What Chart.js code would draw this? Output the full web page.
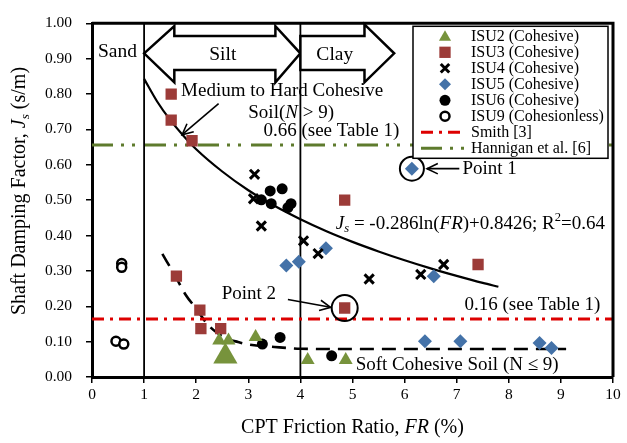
<!DOCTYPE html>
<html><head><meta charset="utf-8">
<script src="https://cdn.jsdelivr.net/npm/chart.js@4.4.1/dist/chart.umd.min.js"></script>
<style>html,body{margin:0;padding:0;background:#fff}#wrap{width:627px;height:443px;position:relative}</style>
</head><body><div id="wrap"><canvas id="c" width="627" height="443"></canvas></div>
<script>
// ---------- data ----------
const xTicks = [0, 1, 2, 3, 4, 5, 6, 7, 8, 9, 10];
const yTicks = [0, 0.1, 0.2, 0.3, 0.4, 0.5, 0.6, 0.7, 0.8, 0.9, 1.0];

const isu2FR = [2.44, 2.62, 2.56, 3.14, 4.14, 4.87];
const isu2Js = [0.103, 0.103, 0.058, 0.113, 0.048, 0.048];

const isu3FR = [1.52, 1.52, 1.92, 1.62, 2.07, 2.09, 2.47, 4.85, 4.85, 7.41];
const isu3Js = [0.800, 0.726, 0.668, 0.285, 0.189, 0.137, 0.137, 0.195, 0.500, 0.318];

const isu4FR = [3.12, 3.10, 3.25, 4.06, 4.34, 5.32, 6.31, 6.75];
const isu4Js = [0.573, 0.504, 0.427, 0.385, 0.349, 0.277, 0.290, 0.318];

const isu5FR = [6.14, 3.73, 3.97, 4.49, 6.56, 6.39, 7.07, 8.59, 8.82];
const isu5Js = [0.589, 0.315, 0.326, 0.364, 0.285, 0.101, 0.101, 0.096, 0.082];

const isu6FR = [3.42, 3.65, 3.25, 3.44, 3.76, 3.82, 3.27, 3.61, 4.60];
const isu6Js = [0.526, 0.532, 0.501, 0.490, 0.479, 0.490, 0.093, 0.112, 0.060];

const isu9FR = [0.57, 0.57, 0.46, 0.61];
const isu9Js = [0.321, 0.310, 0.101, 0.093];

const smithJs = 0.164;      // "0.16 (see Table 1)"
const hanniganJs = 0.656;   // "0.66 (see Table 1)"
const zoneFR = [1, 4];      // Sand | Silt | Clay boundaries

// trend: Js = -0.286 ln(FR) + 0.8426
const trendFR = [1.0, 1.25, 1.5, 1.75, 2.0, 2.5, 3.0, 3.5, 4.0, 4.5, 5.0, 5.5, 6.0, 6.5, 7.0, 7.5, 7.8];
const trendJs = [0.843, 0.779, 0.727, 0.683, 0.644, 0.581, 0.528, 0.484, 0.446, 0.412, 0.382, 0.355, 0.330, 0.307, 0.286, 0.266, 0.255];

// soft cohesive soil dashed curve
const softFR = [1.35, 1.6, 1.8, 2.0, 2.2, 2.4, 2.6, 2.8, 3.0, 3.5, 4.0, 5.0, 6.0, 7.0, 8.0, 9.1];
const softJs = [0.348, 0.285, 0.232, 0.193, 0.152, 0.125, 0.108, 0.099, 0.092, 0.085, 0.080, 0.079, 0.079, 0.079, 0.079, 0.079];

const seriesNames = ['ISU2 (Cohesive)', 'ISU3 (Cohesive)', 'ISU4 (Cohesive)', 'ISU5 (Cohesive)',
  'ISU6 (Cohesive)', 'ISU9 (Cohesionless)', 'Smith [3]', 'Hannigan et al. [6]'];

// ---------- styling ----------
const F = "'Liberation Serif','Times New Roman',serif";
const C2 = '#77933C', C3 = '#9C3B38', C5 = '#4472A8', CS = '#DD0000', CH = '#5E7B2D';
const pts = (xs, ys) => xs.map((x, i) => ({ x, y: ys[i] }));
const yMin = yTicks[0], yMax = yTicks[yTicks.length - 1];
const xMin = xTicks[0], xMax = xTicks[xTicks.length - 1];

function fnt(size, italic) { return (italic ? 'italic ' : '') + size + 'px ' + F; }
function drawRich(ctx, parts, x, y, size, align) {
  let w = 0;
  const items = parts.map(p => {
    const t = Array.isArray(p) ? p[0] : p;
    const st = Array.isArray(p) ? p[1] : '';
    const italic = st.indexOf('i') === 0;
    const sub = st.indexOf('sub') >= 0, sup = st.indexOf('sup') >= 0;
    const fs = (sub || sup) ? size * 0.66 : size;
    ctx.font = fnt(fs, italic);
    const tw = ctx.measureText(t).width;
    w += tw;
    return { t, italic, fs, tw, dy: sub ? size * 0.28 : (sup ? -size * 0.3 : 0) };
  });
  let cx = align === 'center' ? x - w / 2 : x;
  ctx.textAlign = 'left'; ctx.textBaseline = 'middle'; ctx.fillStyle = '#000';
  items.forEach(it => { ctx.font = fnt(it.fs, it.italic); ctx.fillText(it.t, cx, y + it.dy); cx += it.tw; });
}
function arrowLine(ctx, x1, y1, x2, y2, head) {
  ctx.beginPath(); ctx.moveTo(x1, y1); ctx.lineTo(x2, y2); ctx.stroke();
  const a = Math.atan2(y2 - y1, x2 - x1), s = 0.45;
  ctx.beginPath();
  ctx.moveTo(x2 - head * Math.cos(a - s), y2 - head * Math.sin(a - s));
  ctx.lineTo(x2, y2);
  ctx.lineTo(x2 - head * Math.cos(a + s), y2 - head * Math.sin(a + s));
  ctx.stroke();
}
function marker(ctx, style, x, y, r, fill, stroke, lw) {
  ctx.beginPath();
  if (style === 'triangle') {
    ctx.moveTo(x, y - r); ctx.lineTo(x + r * 0.866, y + r / 2); ctx.lineTo(x - r * 0.866, y + r / 2); ctx.closePath();
  } else if (style === 'rect') {
    const s = r * Math.SQRT1_2; ctx.rect(x - s, y - s, 2 * s, 2 * s);
  } else if (style === 'rectRot') {
    ctx.moveTo(x - r, y); ctx.lineTo(x, y - r); ctx.lineTo(x + r, y); ctx.lineTo(x, y + r); ctx.closePath();
  } else if (style === 'circle') {
    ctx.arc(x, y, r, 0, Math.PI * 2);
  } else if (style === 'crossRot') {
    const s = r * Math.SQRT1_2;
    ctx.moveTo(x - s, y - s); ctx.lineTo(x + s, y + s); ctx.moveTo(x + s, y - s); ctx.lineTo(x - s, y + s);
  }
  if (fill) { ctx.fillStyle = fill; ctx.fill(); }
  if (stroke) { ctx.strokeStyle = stroke; ctx.lineWidth = lw; ctx.stroke(); }
}

const annot = {
  id: 'annot',
  afterDatasetsDraw(chart) {
    const ctx = chart.ctx, xs = chart.scales.x, ys = chart.scales.y, a = chart.chartArea;
    const X = v => xs.getPixelForValue(v), Y = v => ys.getPixelForValue(v);
    ctx.save();
    // Silt / Clay block arrows
    ctx.lineWidth = 2.5; ctx.strokeStyle = '#000'; ctx.fillStyle = '#fff'; ctx.lineJoin = 'miter';
    const silt = [[1.0, 0.915], [1.58, 0.992], [1.58, 0.964], [3.52, 0.964], [3.52, 0.992], [4.0, 0.915],
      [3.52, 0.833], [3.52, 0.868], [1.58, 0.868], [1.58, 0.833]];
    const clay = [[4.0, 0.964], [5.23, 0.964], [5.23, 0.997], [5.8, 0.915], [5.23, 0.833], [5.23, 0.868], [4.0, 0.868]];
    [silt, clay].forEach(poly => {
      ctx.beginPath();
      poly.forEach((p, i) => i ? ctx.lineTo(X(p[0]), Y(p[1])) : ctx.moveTo(X(p[0]), Y(p[1])));
      ctx.closePath(); ctx.fill(); ctx.stroke();
    });
    drawRich(ctx, ['Silt'], X(2.51), Y(0.91), 19.5, 'center');
    drawRich(ctx, ['Clay'], X(4.66), Y(0.91), 19.5, 'center');
    drawRich(ctx, ['Sand'], X(0.49), Y(0.918), 19.5, 'center');

    // text annotations
    drawRich(ctx, ['Medium to Hard Cohesive'], X(1.71), Y(0.808), 19);
    drawRich(ctx, ['Soil(', ['N', 'i'], ' > 9)'], X(3.00), Y(0.745), 19);
    drawRich(ctx, ['0.66 (see Table 1)'], X(3.29), Y(0.696), 19);
    drawRich(ctx, [['J', 'i'], ['s', 'isub'], ' = -0.286ln(', ['FR', 'i'], ')+0.8426; R', ['2', 'sup'], '=0.64'], X(4.68), Y(0.433), 19);
    drawRich(ctx, ['Point 1'], X(7.11), Y(0.589), 19);
    drawRich(ctx, ['Point 2'], X(2.49), Y(0.236), 19);
    drawRich(ctx, ['0.16 (see Table 1)'], X(7.15), Y(0.203), 19);
    drawRich(ctx, ['Soft Cohesive Soil (N \u2264 9)'], X(5.06), Y(0.033), 19);

    // arrows
    ctx.lineWidth = 1.6; ctx.strokeStyle = '#000';
    arrowLine(ctx, X(2.43), Y(0.773), X(1.73), Y(0.685), 12);
    arrowLine(ctx, X(7.05), Y(isu5Js[0]), X(6.43), Y(isu5Js[0]), 12);
    arrowLine(ctx, X(3.76), Y(0.219), X(4.58), Y(0.197), 12);
    // circles around Point 1 and Point 2
    ctx.lineWidth = 2;
    ctx.beginPath(); ctx.arc(X(isu5FR[0]), Y(isu5Js[0]), 12, 0, Math.PI * 2); ctx.stroke();
    ctx.beginPath(); ctx.arc(X(isu3FR[7]), Y(isu3Js[7]), 13, 0, Math.PI * 2); ctx.stroke();

    // frame (top and right)
    ctx.lineWidth = 3; ctx.strokeStyle = '#000';
    ctx.beginPath(); ctx.moveTo(a.left, a.top); ctx.lineTo(a.right, a.top); ctx.lineTo(a.right, a.bottom); ctx.stroke();

    // legend
    const lx = a.right - 200, ly = a.top + 3, lw = 195, lh = 132;
    ctx.fillStyle = '#fff'; ctx.fillRect(lx, ly, lw, lh);
    ctx.lineWidth = 1.5; ctx.strokeStyle = '#000'; ctx.strokeRect(lx, ly, lw, lh);
    const mx = lx + 32, tx = lx + 58;
    const rows = seriesNames.map((n, i) => ly + 10 + i * 16);
    marker(ctx, 'triangle', mx, rows[0] + 1, 7, C2);
    marker(ctx, 'rect', mx, rows[1], 8, C3);
    marker(ctx, 'crossRot', mx, rows[2], 6, null, '#000', 3);
    marker(ctx, 'rectRot', mx, rows[3], 6, C5);
    marker(ctx, 'circle', mx, rows[4], 5.5, '#000');
    marker(ctx, 'circle', mx, rows[5], 4.5, '#fff', '#000', 2.5);
    ctx.lineWidth = 3;
    ctx.strokeStyle = CS; ctx.setLineDash([12, 6, 3, 6]);
    ctx.beginPath(); ctx.moveTo(lx + 8, rows[6]); ctx.lineTo(lx + 50, rows[6]); ctx.stroke();
    ctx.strokeStyle = CH; ctx.setLineDash([21, 8, 3, 8, 3, 10]);
    ctx.beginPath(); ctx.moveTo(lx + 8, rows[7]); ctx.lineTo(lx + 53, rows[7]); ctx.stroke();
    ctx.setLineDash([]);
    seriesNames.forEach((n, i) => drawRich(ctx, [n], tx, rows[i] + 0.5, 16));

    // axis titles
    drawRich(ctx, ['CPT Friction Ratio, ', ['FR', 'i'], ' (%)'], (a.left + a.right) / 2, 428, 20, 'center');
    ctx.translate(20, 191); ctx.rotate(-Math.PI / 2);
    drawRich(ctx, ['Shaft Damping Factor, ', ['J', 'i'], ['s', 'isub'], ' (s/m)'], 0, 0, 20, 'center');
    ctx.restore();
  }
};

const lineDs = (label, data, color, width, dash) => ({
  type: 'line', label, data, borderColor: color, borderWidth: width, borderDash: dash || [],
  pointRadius: 0, fill: false, showLine: true, tension: 0, cubicInterpolationMode: 'monotone'
});

new Chart(document.getElementById('c'), {
  type: 'scatter',
  data: {
    datasets: [
      { label: seriesNames[0], data: pts(isu2FR, isu2Js), pointStyle: 'triangle',
        pointRadius: c => (c.dataIndex === 2 ? 14 : 8), backgroundColor: C2, borderColor: C2, borderWidth: 0 },
      { label: seriesNames[1], data: pts(isu3FR, isu3Js), pointStyle: 'rect', pointRadius: 8, backgroundColor: C3, borderColor: C3, borderWidth: 0 },
      { label: seriesNames[2], data: pts(isu4FR, isu4Js), pointStyle: 'crossRot', pointRadius: 6.5, borderColor: '#000', borderWidth: 3 },
      { label: seriesNames[3], data: pts(isu5FR, isu5Js), pointStyle: 'rectRot', pointRadius: 7, backgroundColor: C5, borderColor: C5, borderWidth: 0 },
      { label: seriesNames[4], data: pts(isu6FR, isu6Js), pointStyle: 'circle', pointRadius: 5.5, backgroundColor: '#000', borderColor: '#000', borderWidth: 0 },
      { label: seriesNames[5], data: pts(isu9FR, isu9Js), pointStyle: 'circle', pointRadius: 4.5, backgroundColor: '#fff', borderColor: '#000', borderWidth: 2.5 },
      lineDs(seriesNames[6], [{ x: xMin, y: smithJs }, { x: xMax, y: smithJs }], CS, 3, [12, 6, 3, 6]),
      lineDs(seriesNames[7], [{ x: xMin, y: hanniganJs }, { x: xMax, y: hanniganJs }], CH, 3, [21, 8, 3, 8, 3, 10]),
      lineDs('trend', pts(trendFR, trendJs), '#000', 2.2),
      lineDs('soft', pts(softFR, softJs), '#000', 2.6, [14, 8]),
      lineDs('b1', [{ x: zoneFR[0], y: yMin }, { x: zoneFR[0], y: yMax }], '#000', 1.8),
      lineDs('b2', [{ x: zoneFR[1], y: yMin }, { x: zoneFR[1], y: yMax }], '#000', 1.8)
    ]
  },
  options: {
    responsive: false, animation: false, devicePixelRatio: 1,
    layout: { padding: { left: 0, top: 12, right: 9, bottom: 0 } },
    plugins: { legend: { display: false }, tooltip: { enabled: false } },
    scales: {
      x: {
        type: 'linear', min: xMin, max: xMax,
        afterBuildTicks: s => { s.ticks = xTicks.map(v => ({ value: v })); },
        afterFit: s => { s.height = 66; },
        ticks: { color: '#000', font: { family: F, size: 15.5 }, padding: 3, callback: v => String(v), maxRotation: 0 },
        grid: { drawOnChartArea: false, drawTicks: true, tickLength: 6, color: '#000', lineWidth: 1.5 },
        border: { display: true, color: '#000', width: 3 }
      },
      y: {
        type: 'linear', min: yMin, max: yMax,
        afterBuildTicks: s => { s.ticks = yTicks.map(v => ({ value: v })); },
        afterFit: s => { s.width = 92; },
        ticks: { color: '#000', font: { family: F, size: 15.5 }, padding: 14, callback: v => Number(v).toFixed(2) },
        grid: { drawOnChartArea: false, drawTicks: true, tickLength: 6, color: '#000', lineWidth: 1.5 },
        border: { display: true, color: '#000', width: 3 }
      }
    }
  },
  plugins: [annot]
});
</script></body></html>
